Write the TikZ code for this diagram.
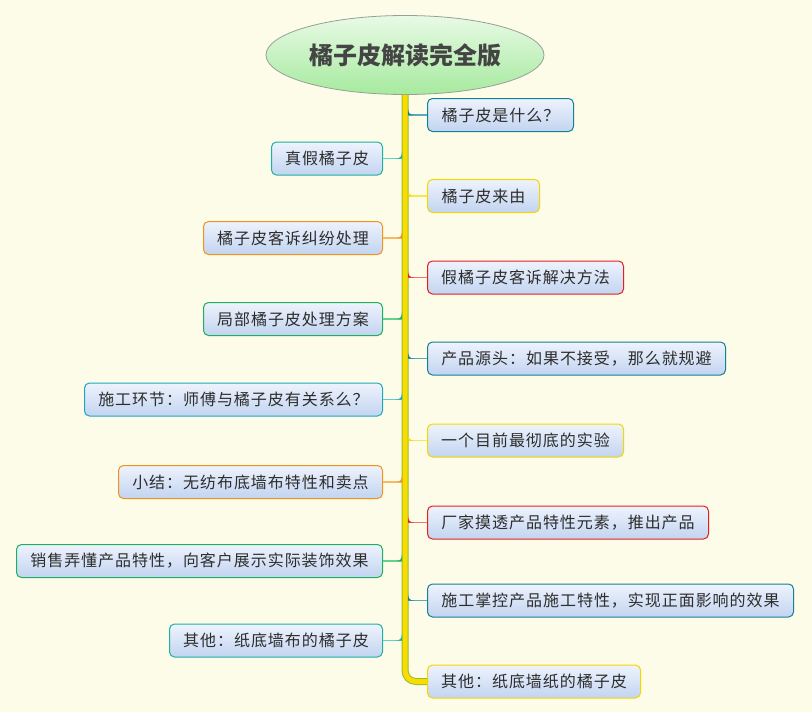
\documentclass[tikz,border=0pt]{standalone}
\usepackage{fontspec}
\newfontfamily\cjk[LetterSpace=6]{Noto Sans CJK SC}
\newfontfamily\cjkb{Noto Sans CJK SC}
\usetikzlibrary{shapes.geometric}
\definecolor{bg}{RGB}{252,252,232}
\definecolor{txt}{RGB}{45,45,45}
\definecolor{cTeal}{RGB}{20,128,150}
\definecolor{cTealL}{RGB}{90,170,190}
\definecolor{cYel}{RGB}{245,214,0}
\definecolor{cYelL}{RGB}{250,228,90}
\definecolor{cRed}{RGB}{232,30,30}
\definecolor{cRedL}{RGB}{240,120,100}
\definecolor{cTG}{RGB}{30,176,160}
\definecolor{cTGL}{RGB}{100,210,195}
\definecolor{cOr}{RGB}{242,146,30}
\definecolor{cOrL}{RGB}{248,185,100}
\definecolor{cGr}{RGB}{30,176,96}
\definecolor{cGrL}{RGB}{100,210,140}
\definecolor{cCy}{RGB}{30,168,192}
\definecolor{cCyL}{RGB}{100,200,215}
\definecolor{spYel}{RGB}{250,220,0}
\definecolor{spGr}{RGB}{150,190,40}
\tikzset{
  topic/.style={draw=#1, line width=1pt, rounded corners=5pt, minimum height=33pt,
    inner sep=0pt, top color={rgb,255:red,238;green,243;blue,253},
    bottom color={rgb,255:red,194;green,212;blue,240}, text=txt, font=\cjk\fontsize{16}{19}\selectfont},
  conn/.style={draw=#1, line width=1.5pt},
}
\newcommand\flR[2]{\fill[#2] (#1.west -| sp) ++(3,0) -- ++(0,-7) .. controls +(0,5) and +(-4,0) .. ++(6,7) -- cycle;}
\newcommand\flL[2]{\fill[#2] (#1.east -| sp) ++(-3,0) -- ++(0,-7) .. controls +(0,5) and +(4,0) .. ++(-6,7) -- cycle;}
\begin{document}
\begin{tikzpicture}[x=1pt,y=-1pt]
\fill[bg] (0,0) rectangle (812,712);
\useasboundingbox (0,0) rectangle (812,712);
\coordinate (sp) at (405,0);
\node[ellipse, inner sep=0pt, draw={rgb,255:red,150;green,160;blue,150}, line width=0.8pt, minimum width=278pt, minimum height=79pt,
  top color={rgb,255:red,232;green,250;blue,230}, bottom color={rgb,255:red,166;green,234;blue,158},
  text={rgb,255:red,68;green,68;blue,68}, font=\cjkb\bfseries\fontsize{24}{28}\selectfont] (title) at (405,55) {橘子皮解读完全版};
% right nodes
\node[topic=cTeal, anchor=west, minimum width=146pt] (r1) at (427,115) {橘子皮是什么？};
\node[topic=cYel, anchor=west, minimum width=112pt] (r2) at (427,196) {橘子皮来由};
\node[topic=cRed, anchor=west, minimum width=196pt] (r3) at (427,277.5) {假橘子皮客诉解决方法};
\node[topic=cTeal, anchor=west, minimum width=298pt] (r4) at (427,358.5) {产品源头：如果不接受，那么就规避};
\node[topic=cYel, anchor=west, minimum width=196pt] (r5) at (427,440.5) {一个目前最彻底的实验};
\node[topic=cRed, anchor=west, minimum width=281pt] (r6) at (427,522.5) {厂家摸透产品特性元素，推出产品};
\node[topic=cTeal, anchor=west, minimum width=366pt] (r7) at (427,600.5) {施工掌控产品施工特性，实现正面影响的效果};
\node[topic=cYel, anchor=west, minimum width=213pt] (r8) at (427,681.5) {其他：纸底墙纸的橘子皮};
% left nodes
\node[topic=cTG, anchor=east, minimum width=111pt] (l1) at (383,158.5) {真假橘子皮};
\node[topic=cOr, anchor=east, minimum width=179pt] (l2) at (383,238) {橘子皮客诉纠纷处理};
\node[topic=cGr, anchor=east, minimum width=179pt] (l3) at (383,319) {局部橘子皮处理方案};
\node[topic=cCy, anchor=east, minimum width=298pt] (l4) at (383,399.5) {施工环节：师傅与橘子皮有关系么？};
\node[topic=cOr, anchor=east, minimum width=264pt] (l5) at (383,482) {小结：无纺布底墙布特性和卖点};
\node[topic=cGr, anchor=east, minimum width=366pt] (l6) at (383,561) {销售弄懂产品特性，向客户展示实际装饰效果};
\node[topic=cTG, anchor=east, minimum width=213pt] (l7) at (383,640.5) {其他：纸底墙布的橘子皮};
% connectors
\draw[conn=cTealL] (r1.west) -- (r1.west -| sp);
\draw[conn=cYelL] (r2.west) -- (r2.west -| sp);
\draw[conn=cRedL] (r3.west) -- (r3.west -| sp);
\draw[conn=cTealL] (r4.west) -- (r4.west -| sp);
\draw[conn=cYelL] (r5.west) -- (r5.west -| sp);
\draw[conn=cRedL] (r6.west) -- (r6.west -| sp);
\draw[conn=cTealL] (r7.west) -- (r7.west -| sp);
\draw[conn=cTGL] (l1.east) -- (l1.east -| sp);
\draw[conn=cOrL] (l2.east) -- (l2.east -| sp);
\draw[conn=cGrL] (l3.east) -- (l3.east -| sp);
\draw[conn=cCyL] (l4.east) -- (l4.east -| sp);
\draw[conn=cOrL] (l5.east) -- (l5.east -| sp);
\draw[conn=cGrL] (l6.east) -- (l6.east -| sp);
\draw[conn=cTGL] (l7.east) -- (l7.east -| sp);
% spine
\draw[spGr, line width=7pt, rounded corners=11pt] (title.south) |- (r8.west);
\draw[spYel, line width=5pt, rounded corners=11pt] (title.south) |- (r8.west);
% flares
\flR{r1}{cTeal}\flR{r2}{cYel}\flR{r3}{cRed}\flR{r4}{cTeal}\flR{r5}{cYel}\flR{r6}{cRed}\flR{r7}{cTeal}
\flL{l1}{cTG}\flL{l2}{cOr}\flL{l3}{cGr}\flL{l4}{cCy}\flL{l5}{cOr}\flL{l6}{cGr}\flL{l7}{cTG}
\end{tikzpicture}
\end{document}
